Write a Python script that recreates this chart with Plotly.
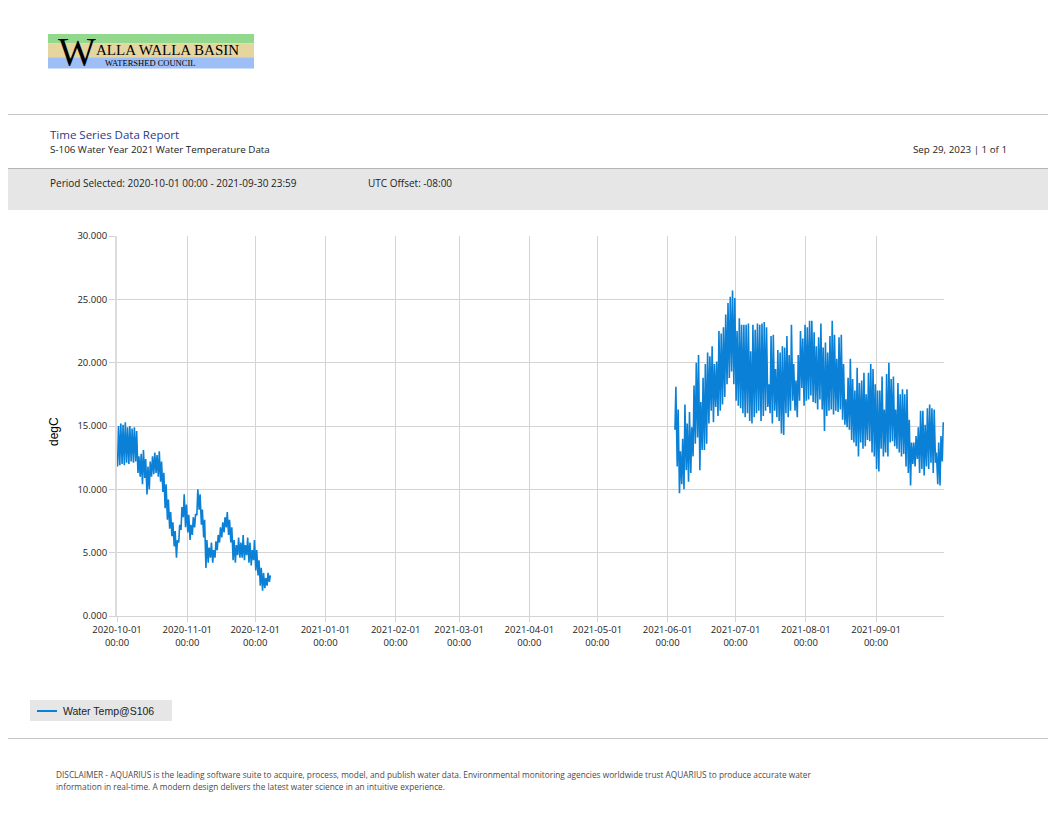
import pandas as pd
import plotly.graph_objects as go

# daily max / min water temperature (degC)
# fall 2020 segment, starting 2020-10-01
fall_start = "2020-10-01"
fall_max = [15.0, 15.2, 15.1, 15.3, 14.9, 15.0, 14.8, 14.9, 14.6, 12.6,
            12.8, 13.1, 12.4, 11.8, 12.2, 12.6, 12.9, 12.7, 13.0, 12.2,
            11.3, 10.4, 9.2, 8.2, 7.4, 6.7, 6.0, 7.2, 8.6, 9.6,
            8.8, 8.0, 7.2, 7.8, 8.0, 10.0, 9.6, 8.4, 7.6, 6.0,
            5.4, 5.8, 5.2, 5.9, 6.4, 7.0, 7.4, 7.8, 8.2, 7.6,
            7.0, 6.0, 5.6, 6.2, 5.8, 6.4, 5.6, 6.2, 5.8, 5.2,
            6.0, 5.2, 4.4, 3.8, 3.4, 3.0, 3.4, 3.2]
fall_min = [11.8, 11.9, 12.0, 11.9, 12.1, 12.0, 12.2, 12.1, 12.2, 11.3,
            11.0, 10.4, 10.9, 9.6, 10.0, 11.0, 11.2, 11.3, 11.0, 10.6,
            9.8, 8.5, 7.6, 6.9, 6.3, 5.5, 4.6, 5.8, 6.8, 7.8,
            7.0, 6.6, 6.0, 6.4, 7.0, 8.0, 8.4, 7.2, 6.2, 3.8,
            4.2, 4.6, 4.2, 4.6, 5.2, 5.8, 6.2, 6.6, 7.0, 6.4,
            5.8, 4.4, 4.2, 4.8, 4.6, 4.6, 4.4, 4.8, 4.2, 4.0,
            4.4, 3.6, 3.2, 2.4, 2.0, 2.2, 2.4, 2.7]

# summer 2021 segment, starting 2021-06-04
summer_start = "2021-06-04"
summer_max = [18.1, 16.3, 13.0, 14.0, 16.7, 15.2, 16.1, 14.9, 18.2, 20.0,
              20.6, 16.9, 18.8, 19.9, 20.8, 20.5, 21.3, 19.9, 20.1, 22.5,
              22.3, 22.8, 23.8, 24.7, 25.2, 25.7, 25.1,
              22.5, 23.5, 23.0, 23.0, 23.0, 23.1, 20.9, 23.0, 22.6, 23.1,
              23.0, 23.1, 23.2, 22.8, 18.3, 22.1, 22.2, 19.5, 21.0, 20.8,
              21.3, 21.2, 22.1, 20.6, 23.0, 19.9, 18.6, 20.6, 22.5, 21.9, 23.0,
              22.8, 23.3, 23.3, 22.4, 21.3, 22.0, 23.1, 21.2, 21.6, 20.8,
              22.1, 23.3, 22.2, 20.3, 22.0, 22.2, 19.9, 17.1, 18.8, 20.3,
              18.7, 17.8, 19.6, 18.4, 18.6, 19.2, 17.5, 19.2, 19.9, 19.5, 18.3,
              17.8, 17.8, 18.9, 16.3, 19.1, 20.0, 18.7, 18.9, 16.3, 18.4,
              17.5, 17.9, 17.5, 17.9, 15.5, 13.7, 13.7, 14.2, 14.9, 16.2,
              16.2, 15.1, 16.4, 16.7, 16.4, 16.3, 12.9, 13.7, 14.2, 15.3]
summer_min = [14.7, 11.8, 9.7, 10.4, 10.0, 11.5, 10.6, 11.3, 12.6, 13.6,
              14.1, 11.5, 13.1, 13.1, 13.6, 15.2, 16.2, 15.3, 16.5, 15.8,
              16.2, 16.7, 17.3, 18.3, 18.8, 19.3, 18.3,
              17.0, 16.6, 16.4, 16.0, 15.7, 16.0, 15.4, 15.2, 15.7, 16.0,
              16.2, 15.4, 15.8, 16.2, 16.5, 16.0, 15.2, 16.2, 15.7, 15.4,
              14.4, 14.3, 16.0, 15.7, 16.2, 17.0, 16.2, 15.7, 17.0, 18.0, 16.6,
              17.0, 17.1, 17.4, 16.9, 16.8, 16.3, 17.1, 16.3, 14.6, 15.8,
              16.2, 16.3, 15.9, 16.2, 16.1, 16.3, 15.5, 15.1, 14.9, 14.7,
              13.9, 13.7, 13.4, 12.6, 13.7, 13.2, 13.4, 13.9, 13.8, 12.9, 12.6,
              11.6, 11.4, 13.2, 12.6, 12.9, 12.6, 13.7, 13.8, 13.4, 13.2,
              12.9, 12.6, 12.8, 11.8, 11.3, 10.3, 12.0, 11.8, 12.4, 11.3,
              11.6, 11.1, 11.8, 11.6, 12.1, 11.3, 12.1, 10.4, 10.3, 12.2]

y_ticks = [0, 5, 10, 15, 20, 25, 30]
x_ticks = ["2020-10-01", "2020-11-01", "2020-12-01", "2021-01-01", "2021-02-01", "2021-03-01",
           "2021-04-01", "2021-05-01", "2021-06-01", "2021-07-01", "2021-08-01", "2021-09-01"]
series_name = "Water Temp@S106"


def daily_series(start, highs, lows):
    # morning low / afternoon high for every day
    days = pd.date_range(start, periods=len(highs), freq="D")
    t, v = [], []
    for d, hi, lo in zip(days, highs, lows):
        t += [d + pd.Timedelta(hours=6), d + pd.Timedelta(hours=16)]
        v += [lo, hi]
    return t, v


t1, v1 = daily_series(fall_start, fall_max, fall_min)
t2, v2 = daily_series(summer_start, summer_max, summer_min)
times = t1 + [pd.Timestamp("2021-01-01")] + t2
temps = v1 + [None] + v2

# the page body has an 8px margin, so the figure is shifted by that much
OFF = 8
W, H = 1056 - OFF, 816 - OFF
L, R, T, B = 117, 944, 236, 616   # plot area in page pixels


def px(x):
    return (x - L) / (R - L)


def py(y):
    return (B - y) / (B - T)


fig = go.Figure()
fig.add_trace(go.Scatter(
    x=times, y=temps, mode="lines", connectgaps=False,
    line=dict(color="#0a80d6", width=1.6),
    name=series_name, showlegend=False,
))

txt = "Open Sans"
shapes = [
    # logo bands
    dict(type="rect", x0=px(48), x1=px(254), y0=py(34), y1=py(43.5), fillcolor="#93d98d", line_width=0),
    dict(type="rect", x0=px(48), x1=px(254), y0=py(43.5), y1=py(57.3), fillcolor="#e5d6a0", line_width=0),
    dict(type="rect", x0=px(48), x1=px(254), y0=py(57.3), y1=py(68.5), fillcolor="#9ebef7", line_width=0),
    # separators and info band
    dict(type="line", x0=px(0), x1=px(1060), y0=py(114.5), y1=py(114.5), line=dict(color="#c4c4c4", width=1)),
    dict(type="rect", x0=px(0), x1=px(1060), y0=py(168), y1=py(210), fillcolor="#e6e6e6",
         line_width=0, layer="below"),
    dict(type="line", x0=px(0), x1=px(1060), y0=py(168.5), y1=py(168.5), line=dict(color="#b4b4b4", width=1)),
    dict(type="line", x0=px(0), x1=px(1060), y0=py(738.5), y1=py(738.5), line=dict(color="#c4c4c4", width=1)),
    # legend box and sample
    dict(type="rect", x0=px(30), x1=px(172), y0=py(700), y1=py(721), fillcolor="#e6e6e6", line_width=0),
    dict(type="line", x0=px(37), x1=px(57), y0=py(711), y1=py(711), line=dict(color="#0a80d6", width=2)),
]
for s in shapes:
    s.update(xref="paper", yref="paper")

annotations = [
    dict(text="W", x=px(56), y=py(51.5), xanchor="left", font=dict(family="Liberation Serif", size=40, color="#000")),
    dict(text="ALLA WALLA BASIN", x=px(94), y=py(50), xanchor="left",
         font=dict(family="Liberation Serif", size=15, color="#000")),
    dict(text="WATERSHED COUNCIL", x=px(103), y=py(62.5), xanchor="left",
         font=dict(family="Liberation Serif", size=8.5, color="#000")),
    dict(text="Time Series Data Report", x=px(48), y=py(134), xanchor="left",
         font=dict(family=txt, size=11.5, color="#1f3b8c")),
    dict(text="S-106 Water Year 2021 Water Temperature Data", x=px(48), y=py(149), xanchor="left",
         font=dict(family=txt, size=9.8, color="#222")),
    dict(text="Sep 29, 2023 | 1 of 1", x=px(1009), y=py(149), xanchor="right",
         font=dict(family=txt, size=9.8, color="#222")),
    dict(text="Period Selected: 2020-10-01 00:00 - 2021-09-30 23:59", x=px(48), y=py(183), xanchor="left",
         font=dict(family=txt, size=10, color="#222")),
    dict(text="UTC Offset: -08:00", x=px(366), y=py(183), xanchor="left",
         font=dict(family=txt, size=10, color="#222")),
    dict(text="degC", x=px(45), y=py(432), textangle=-90,
         font=dict(family="Liberation Sans", size=12, color="#000")),
    dict(text=series_name, x=px(61), y=py(711), xanchor="left",
         font=dict(family="Liberation Sans", size=10.5, color="#222")),
    dict(text="DISCLAIMER - AQUARIUS is the leading software suite to acquire, process, model, and publish water data. "
              "Environmental monitoring agencies worldwide trust AQUARIUS to produce accurate water",
         x=px(54), y=py(774), xanchor="left", font=dict(family=txt, size=8.3, color="#4a4a4a")),
    dict(text="information in real-time. A modern design delivers the latest water science in an intuitive experience.",
         x=px(54), y=py(786), xanchor="left", font=dict(family=txt, size=8.3, color="#4a4a4a")),
]
for a in annotations:
    a.update(xref="paper", yref="paper", showarrow=False, yanchor="middle")

fig.update_layout(
    width=W, height=H,
    margin=dict(l=L - OFF, r=W - (R - OFF), t=T - OFF, b=H - (B - OFF)),
    paper_bgcolor="white", plot_bgcolor="white",
    font=dict(family=txt, size=9.5, color="#222"),
    shapes=shapes, annotations=annotations,
    showlegend=False,
)
fig.update_xaxes(
    range=["2020-10-01", "2021-10-01"],
    tickvals=x_ticks, tickformat="%Y-%m-%d<br>%H:%M",
    showgrid=True, gridcolor="#d4d4d4", gridwidth=1,
    showline=True, linecolor="#d4d4d4",
    ticks="outside", ticklen=5, tickcolor="#d4d4d4",
    zeroline=False,
)
fig.update_yaxes(
    range=[0, 30], tickvals=y_ticks, tickformat=".3f",
    showgrid=True, gridcolor="#d4d4d4", gridwidth=1,
    showline=True, linecolor="#dcdcdc", linewidth=2,
    ticks="outside", ticklen=6, tickcolor="#d4d4d4",
    zeroline=False,
)

fig.write_html("out.html")
